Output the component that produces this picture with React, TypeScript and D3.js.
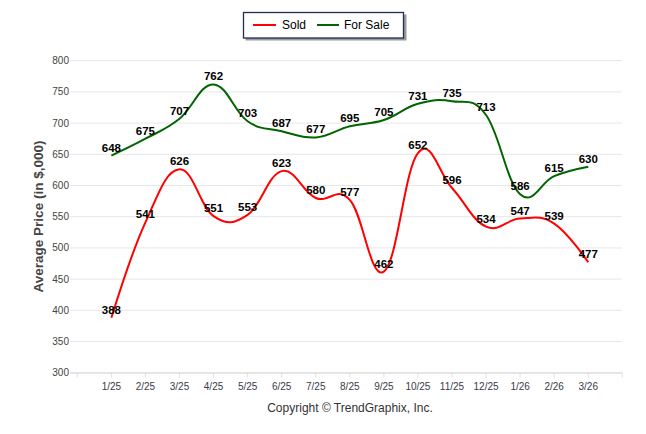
import React, { useEffect } from "react";
import * as d3 from "d3";

const categories = ["1/25","2/25","3/25","4/25","5/25","6/25","7/25","8/25","9/25","10/25","11/25","12/25","1/26","2/26","3/26"];
const soldValues = [388, 541, 626, 551, 553, 623, 580, 577, 462, 652, 596, 534, 547, 539, 477];
const forSaleValues = [648, 675, 707, 762, 703, 687, 677, 695, 705, 731, 735, 713, 586, 615, 630];
const yTicks = [300, 350, 400, 450, 500, 550, 600, 650, 700, 750, 800];

const W = 646, H = 434;
const plotLeft = 70, plotRight = 622;
const yTop = 60.7, yBottom = 372.7;

export default function App() {
  useEffect(() => { document.body.style.margin = "0"; }, []);
  // ticks at slots -1..15; categories at 0..14
  const x = d3.scaleLinear().domain([-1, 15]).range([77.3, 622.3]);
  const y = d3.scaleLinear().domain([300, 800]).range([yBottom, yTop]);
  const line = d3.line<number>().x((_, i) => x(i)).y(d => y(d)).curve(d3.curveCardinal.tension(-0.2));
  const font = "'Liberation Sans', Arial, sans-serif";
  const series = [
    { name: "Sold", values: soldValues, color: "#ff0000" },
    { name: "For Sale", values: forSaleValues, color: "#006400" },
  ];
  return (
    <svg width={W} height={H} style={{ display: "block", fontFamily: font }}>
      <rect width={W} height={H} fill="#fff" />
      {yTicks.map(t => (
        <g key={t}>
          <line x1={plotLeft} x2={plotRight} y1={y(t)} y2={y(t)} stroke="#e6e6e6" strokeWidth={1} />
          <text x={69} y={y(t) + 3.5} textAnchor="end" fontSize={10} fill="#444">{t}</text>
        </g>
      ))}
      <line x1={plotLeft} x2={plotRight} y1={yBottom + 0.3} y2={yBottom + 0.3} stroke="#e0e0e0" strokeWidth={1.5} />
      {d3.range(-1, 16).map(k => (
        <line key={k} x1={x(k)} x2={x(k)} y1={yBottom} y2={yBottom + 5} stroke="#e0e0e0" strokeWidth={1} />
      ))}
      {categories.map((c, i) => (
        <text key={c} x={x(i)} y={390} textAnchor="middle" fontSize={10} fill="#3a3a4a">{c}</text>
      ))}
      <text transform={`translate(43,216.5) rotate(-90)`} textAnchor="middle" fontSize={13.5} fontWeight="bold" fill="#444">Average Price (in $,000)</text>
      <text x={350} y={412} textAnchor="middle" fontSize={12} fill="#333">Copyright © TrendGraphix, Inc.</text>
      {series.map(s => (
        <path key={s.name} d={line(s.values) || ""} fill="none" stroke={s.color} strokeWidth={2} />
      ))}
      {series.map(s => s.values.map((v, i) => (
        <text key={s.name + i} x={x(i)} y={y(v) - 4} textAnchor="middle" fontSize={11.5} fontWeight="bold" fill="#000">{v}</text>
      )))}
      {/* legend */}
      <rect x={245.5} y={14.5} width={161} height={26} fill="#9a9a9a" />
      <rect x={243.5} y={12.5} width={160} height={25.5} fill="#fff" stroke="#1f2d5c" strokeWidth={1.3} />
      <line x1={253} x2={276} y1={25} y2={25} stroke="#ff0000" strokeWidth={2} />
      <text x={282} y={29} fontSize={12} fill="#000">Sold</text>
      <line x1={317} x2={339} y1={25} y2={25} stroke="#006400" strokeWidth={2} />
      <text x={344} y={29} fontSize={12} fill="#000">For Sale</text>
    </svg>
  );
}
